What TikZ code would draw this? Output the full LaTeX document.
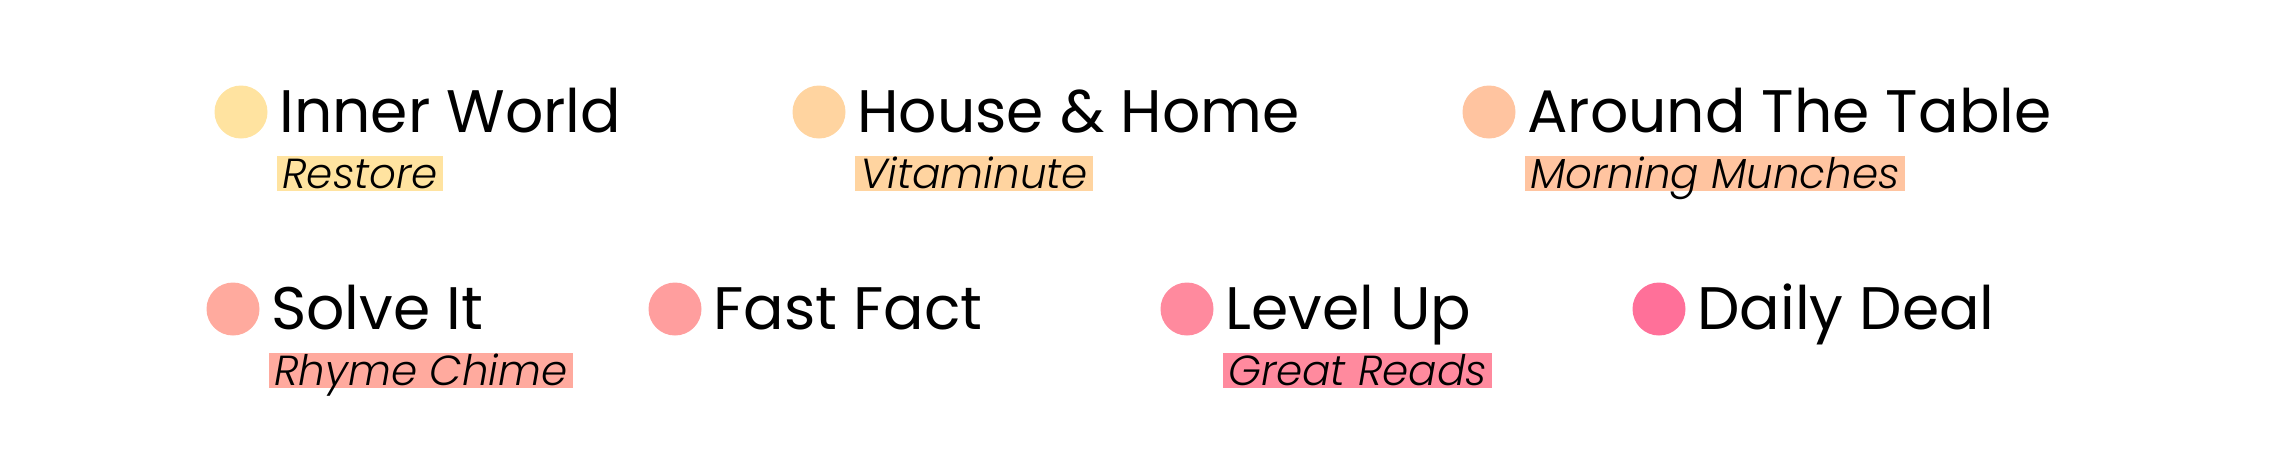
\documentclass[tikz,border=0pt]{standalone}
\usepackage{fontspec}
\setmainfont{Poppins}
\newfontfamily\tagfont{Poppins Light Italic}
\usetikzlibrary{positioning}

\definecolor{toneA}{HTML}{FFE3A0}
\definecolor{toneB}{HTML}{FFD4A0}
\definecolor{toneC}{HTML}{FFC4A0}
\definecolor{toneD}{HTML}{FFAA9E}
\definecolor{toneE}{HTML}{FF9E9E}
\definecolor{toneF}{HTML}{FF8A9E}
\definecolor{toneG}{HTML}{FF7099}

\tikzset{
  dot/.style={circle, minimum size=26.5pt, inner sep=0pt},
  heading/.style={inner sep=0pt, font=\fontsize{30}{36}\selectfont},
  tag/.style={inner xsep=2.5pt, inner ysep=0pt, text height=16pt, text depth=1.5pt,
    font=\tagfont\fontsize{21}{26}\selectfont}
}

\begin{document}
\begin{tikzpicture}[x=0.5pt, y=-0.5pt]
\useasboundingbox (0,0) rectangle (2293,462);

% first row
\node[dot, fill=toneA] (innerdot) at (241,112) {};
\node[dot, fill=toneB] (housedot) at (819,112) {};
\node[dot, fill=toneC] (tabledot) at (1489,112) {};

\node[heading, right=5.5pt of innerdot.east, anchor=base west, yshift=-10pt] (inner) {Inner World};
\node[heading, right=5.5pt of housedot.east, anchor=base west, yshift=-10pt] (house) {House \& Home};
\node[heading, right=5.5pt of tabledot.east, anchor=base west, yshift=-10pt] (table) {Around The Table};

\node[tag, fill=toneA, below right=12pt and -1pt of inner.base west] (restore) {Restore};
\node[tag, fill=toneB, below right=12pt and -1pt of house.base west] (vitamin) {Vitaminute};
\node[tag, fill=toneC, below right=12pt and -1pt of table.base west] (munches) {Morning Munches};

% second row
\node[dot, fill=toneD] (solvedot) at (233,309) {};
\node[dot, fill=toneE] (factdot) at (675,309) {};
\node[dot, fill=toneF] (leveldot) at (1187,309) {};
\node[dot, fill=toneG] (dealdot) at (1659,309) {};

\node[heading, right=5.5pt of solvedot.east, anchor=base west, yshift=-10pt] (solve) {Solve It};
\node[heading, right=5.5pt of factdot.east, anchor=base west, yshift=-10pt] (fact) {Fast Fact};
\node[heading, right=5.5pt of leveldot.east, anchor=base west, yshift=-10pt] (level) {Level Up};
\node[heading, right=5.5pt of dealdot.east, anchor=base west, yshift=-10pt] (deal) {Daily Deal};

\node[tag, fill=toneD, below right=12pt and -1pt of solve.base west] (rhyme) {Rhyme Chime};
\node[tag, fill=toneF, below right=12pt and -1pt of level.base west] (reads) {Great Reads};
\end{tikzpicture}
\end{document}
